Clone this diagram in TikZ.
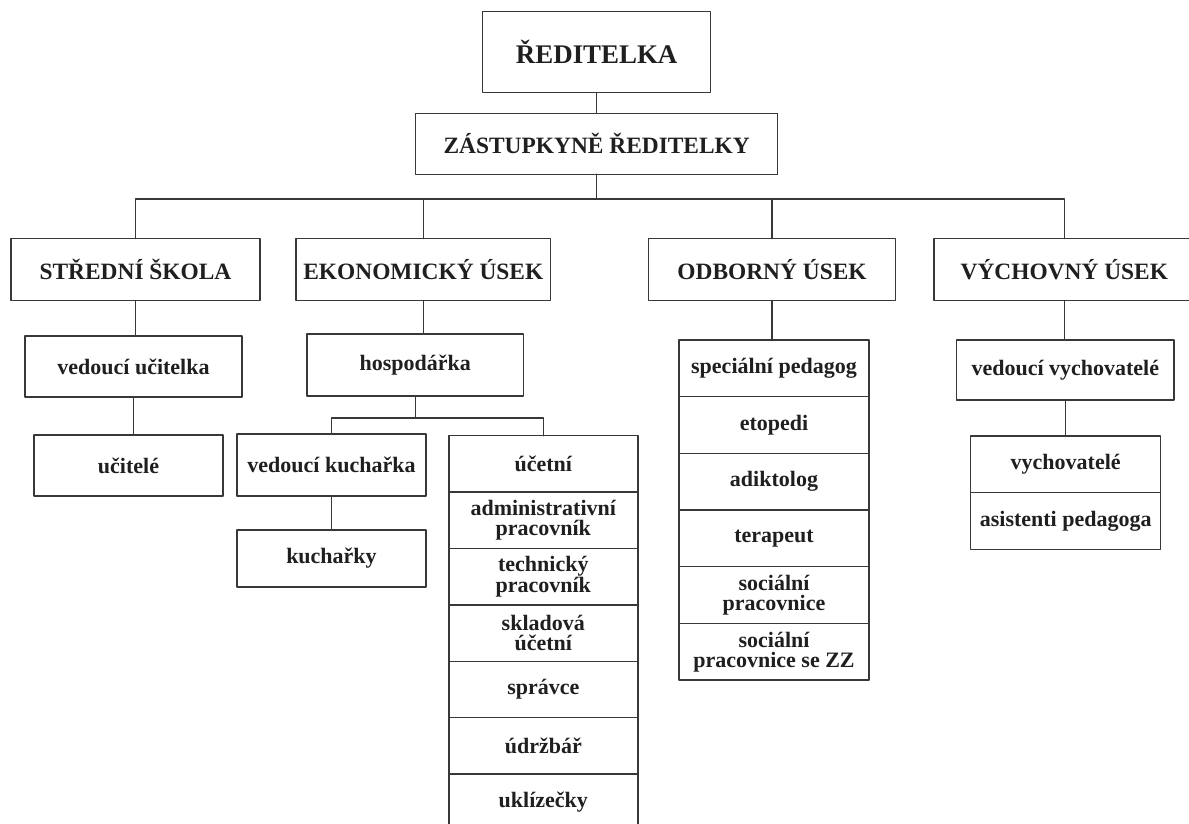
\documentclass[tikz,border=0pt]{standalone}
\usepackage{fontspec}
\setmainfont{Liberation Serif}
\usetikzlibrary{positioning}

\tikzset{
  box/.style={draw=black!78, line width=1.4pt, fill=white, inner sep=0pt, outer sep=0pt,
    text=black!88, align=center, font=\bfseries\fontsize{22}{20}\selectfont},
  head/.style={box, font=\bfseries\fontsize{23.4}{26}\selectfont},
  cell/.style={box, minimum width=189pt, minimum height=56.4pt},
  link/.style={draw=black!78, line width=1.4pt}
}

\begin{document}
\begin{tikzpicture}[x=1pt,y=-1pt,line cap=round,line join=round]
\useasboundingbox (0,0) rectangle (1189,824);
\clip (0,0) rectangle (1189,824);
% top
\node[head, font=\bfseries\fontsize{26.9}{30}\selectfont, minimum width=228pt, minimum height=81pt] (red) at (596.7,52.2) {ŘEDITELKA};
\node[head, minimum width=362pt, minimum height=61pt] (zas) at (596.7,143.8) {ZÁSTUPKYNĚ ŘEDITELKY};
\coordinate (bus) at (596.7,199);
% useky
\node[head, minimum width=249pt, minimum height=62pt] (ss) at (135.5,269.6) {STŘEDNÍ ŠKOLA};
\node[head, minimum width=254.7pt, minimum height=62pt] (ek) at (423.3,269.6) {EKONOMICKÝ ÚSEK};
\node[head, minimum width=247.4pt, minimum height=62pt] (od) at (772,269.6) {ODBORNÝ ÚSEK};
\node[head, minimum width=261pt, minimum height=62pt] (vy) at (1064.3,269.6) {VÝCHOVNÝ ÚSEK};
% vedouci
\node[box, minimum width=217pt, minimum height=61pt] (vu) at (133.5,366.5) {vedoucí učitelka};
\node[box, minimum width=216.7pt, minimum height=62pt] (hos) at (415.3,365) {hospodářka};
\node[box, minimum width=217.3pt, minimum height=60pt] (vv) at (1065.3,370) {vedoucí vychovatelé};
\node[box, minimum width=189pt, minimum height=61pt] (uc) at (128.5,465.5) {učitelé};
\node[box, minimum width=189pt, minimum height=62pt] (vk) at (331.5,465) {vedoucí kuchařka};
\node[box, minimum width=189pt, minimum height=57pt] (ku) at (331.5,558.5) {kuchařky};
\coordinate (sub) at (419,418);
% ekonomicky sloupec
\node[cell] (e1) at (543.3,463.9) {účetní};
\node[cell, below=0pt of e1] (e2) {administrativní\\pracovník};
\node[cell, below=0pt of e2] (e3) {technický\\pracovník};
\node[cell, below=0pt of e3] (e4) {skladová\\účetní};
\node[cell, below=0pt of e4] (e5) {správce};
\node[cell, below=0pt of e5] (e6) {údržbář};
\node[cell, below=0pt of e6] (e7) {uklízečky};
% odborny sloupec
\node[cell, minimum width=190pt, minimum height=56.7pt] (o1) at (774,368.3) {speciální pedagog};
\node[cell, minimum width=190pt, minimum height=56.7pt, below=0pt of o1] (o2) {etopedi};
\node[cell, minimum width=190pt, minimum height=56.7pt, below=0pt of o2] (o3) {adiktolog};
\node[cell, minimum width=190pt, minimum height=56.7pt, below=0pt of o3] (o4) {terapeut};
\node[cell, minimum width=190pt, minimum height=56.7pt, below=0pt of o4] (o5) {sociální\\pracovnice};
\node[cell, minimum width=190pt, minimum height=56.7pt, below=0pt of o5] (o6) {sociální\\pracovnice se ZZ};
% vychovny sloupec
\node[cell, minimum width=190pt, minimum height=56.7pt] (v1) at (1065.7,464.3) {vychovatelé};
\node[cell, minimum width=190pt, minimum height=56.7pt, below=0pt of v1] (v2) {asistenti pedagoga};
% spoje
\draw[link] (red.south) -- (zas.north);
\draw[link] (zas.south) -- (bus);
\draw[link] (ss.north) |- (bus) -| (vy.north);
\draw[link] (ek.north) -- (ek.north |- bus);
\draw[link] (od.north) -- (od.north |- bus);
\draw[link] (ss.south) -- (ss.south |- vu.north);
\draw[link] (vu.south) -- (vu.south |- uc.north);
\draw[link] (ek.south) -- (ek.south |- hos.north);
\draw[link] (hos.south) -- (hos.south |- sub);
\draw[link] (vk.north) |- (sub) -| (e1.north);
\draw[link] (vk.south) -- (vk.south |- ku.north);
\draw[link] (od.south) -- (od.south |- o1.north);
\draw[link] (vy.south) -- (vy.south |- vv.north);
\draw[link] (vv.south) -- (vv.south |- v1.north);
\end{tikzpicture}
\end{document}
